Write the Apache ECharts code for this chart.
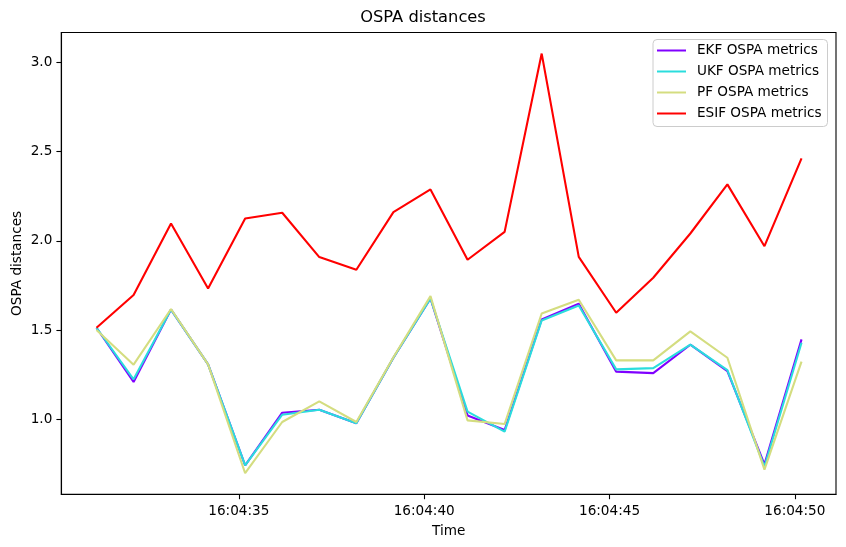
<!DOCTYPE html>
<html>
<head>
<meta charset="utf-8">
<script src="https://cdn.jsdelivr.net/npm/echarts@6/dist/echarts.min.js"></script>
<style>html,body{margin:0;padding:0;background:#fff}#c{width:846px;height:547px}</style>
</head>
<body>
<div id="c"></div>
<script>
// seconds after 16:04:00
var times = [31.16, 32.16, 33.17, 34.17, 35.17, 36.17, 37.17, 38.17, 39.17, 40.17,
             41.17, 42.17, 43.17, 44.17, 45.18, 46.18, 47.18, 48.18, 49.18, 50.18];
var ekf  = [1.513, 1.209, 1.615, 1.308, 0.742, 1.037, 1.054, 0.978, 1.345, 1.677,
            1.022, 0.940, 1.560, 1.647, 1.267, 1.259, 1.418, 1.270, 0.748, 1.448];
var ukf  = [1.513, 1.224, 1.615, 1.308, 0.742, 1.026, 1.054, 0.978, 1.345, 1.677,
            1.043, 0.931, 1.554, 1.638, 1.280, 1.287, 1.418, 1.275, 0.735, 1.429];
var pf   = [1.500, 1.306, 1.618, 1.308, 0.698, 0.985, 1.101, 0.985, 1.348, 1.690,
            0.994, 0.974, 1.593, 1.670, 1.330, 1.330, 1.493, 1.345, 0.718, 1.323];
var esif = [1.513, 1.696, 2.097, 1.733, 2.125, 2.157, 1.909, 1.838, 2.161, 2.288,
            1.894, 2.050, 3.049, 1.910, 1.597, 1.793, 2.041, 2.316, 1.970, 2.462];
var seriesNames = ['EKF OSPA metrics', 'UKF OSPA metrics', 'PF OSPA metrics', 'ESIF OSPA metrics'];
var xTicks = [35, 40, 45, 50];
var yTicks = [1.0, 1.5, 2.0, 2.5, 3.0];

var colors = ['#8000ff', '#2adddd', '#d4dd80', '#ff0000'];
var font = 'DejaVu Sans';
function pairs(arr) { return arr.map(function (v, i) { return [times[i], v]; }); }
var allData = [ekf, ukf, pf, esif];
var lineIcon = 'path://M0,0 M29,14 M0,6 L29,6 L29,8 L0,8 Z';

var chart = echarts.init(document.getElementById('c'), null, {renderer: 'canvas'});
chart.setOption({
  animation: false,
  backgroundColor: '#fff',
  title: {
    text: 'OSPA distances', left: 'center', top: 10, padding: 0,
    textStyle: {fontFamily: font, fontSize: 16.3, fontWeight: 'normal', color: '#000'}
  },
  grid: {left: 61.3, right: 10, top: 32.5, bottom: 52.7, outerBoundsMode: 'none', containLabel: false,
    show: true, borderColor: '#000', borderWidth: 1.1, backgroundColor: 'transparent'},
  legend: {
    orient: 'vertical', left: 653, top: 39.5,
    padding: [4, 6, 6, 4], itemGap: 7, itemWidth: 29, itemHeight: 14,
    backgroundColor: 'rgba(255,255,255,0.8)', borderColor: '#cccccc', borderWidth: 1, borderRadius: 4,
    textStyle: {fontFamily: font, fontSize: 13.6, color: '#000', padding: [0, 0, 0, 6]},
    data: seriesNames.map(function (n) { return {name: n, icon: lineIcon}; })
  },
  xAxis: {
    type: 'value', min: 30.21, max: 51.11,
    name: 'Time', nameLocation: 'middle', nameGap: 30, nameMoveOverlap: false,
    nameTextStyle: {fontFamily: font, fontSize: 13.6, color: '#000'},
    axisLine: {show: true, lineStyle: {color: '#000', width: 1.1}},
    axisTick: {show: true, length: 4.9, lineStyle: {color: '#000', width: 1.1}, customValues: xTicks},
    axisLabel: {fontFamily: font, fontSize: 13.6, color: '#000', margin: 10, customValues: xTicks,
      formatter: function (v) { return '16:04:' + String(Math.round(v)).padStart(2, '0'); }},
    splitLine: {show: false}
  },
  yAxis: {
    type: 'value', min: 0.58, max: 3.167,
    name: 'OSPA distances', nameLocation: 'middle', nameGap: 37, nameRotate: 90, nameMoveOverlap: false,
    nameTextStyle: {fontFamily: font, fontSize: 13.6, color: '#000'},
    axisLine: {show: true, lineStyle: {color: '#000', width: 1.1}},
    axisTick: {show: true, length: 4.9, lineStyle: {color: '#000', width: 1.1}, customValues: yTicks},
    axisLabel: {fontFamily: font, fontSize: 13.6, color: '#000', margin: 9, customValues: yTicks,
      formatter: function (v) { return v.toFixed(1); }},
    splitLine: {show: false}
  },
  series: seriesNames.map(function (n, k) {
    return {
      name: n, type: 'line', data: pairs(allData[k]),
      symbol: 'none', showSymbol: false,
      lineStyle: {color: colors[k], width: 2.1},
      itemStyle: {color: colors[k]},
      emphasis: {disabled: true}
    };
  })
});
</script>
</body>
</html>
